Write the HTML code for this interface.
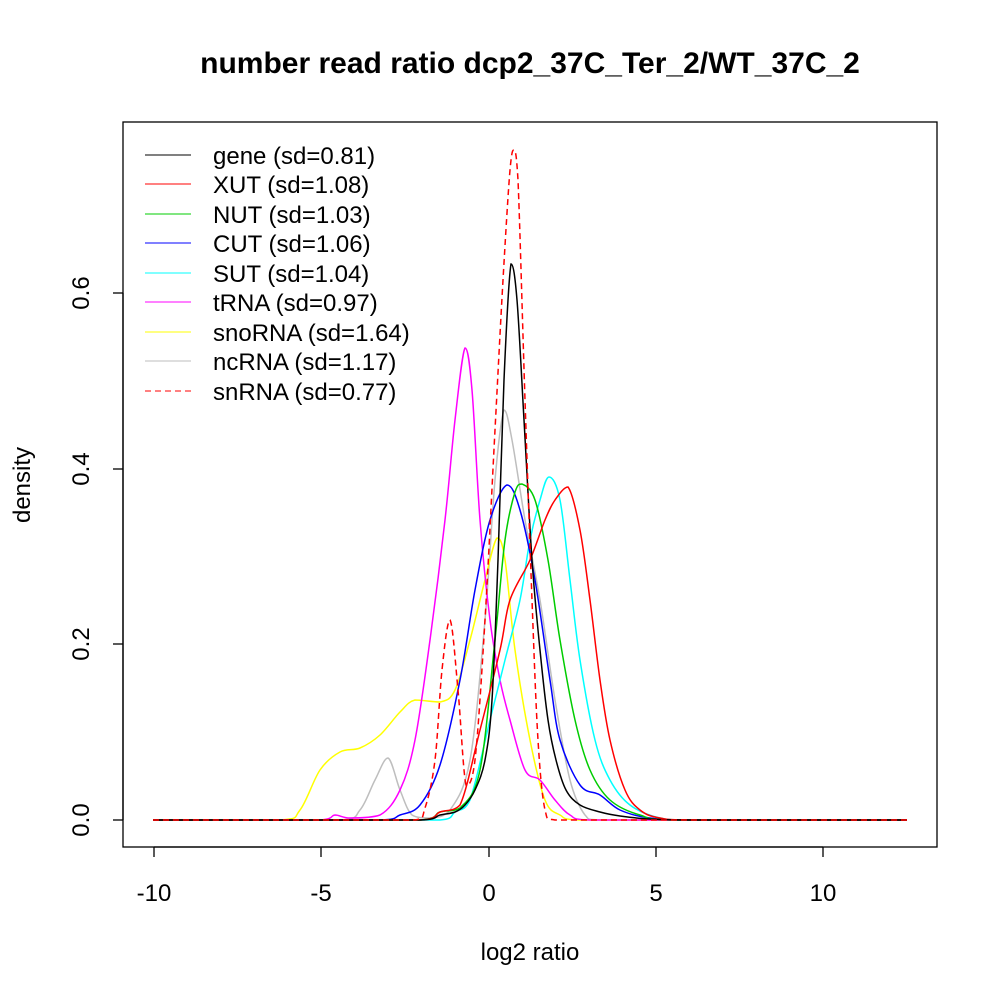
<!DOCTYPE html>
<html><head><meta charset="utf-8"><style>body{margin:0;background:#fff}svg{display:block}text{font-family:"Liberation Sans",sans-serif}</style></head><body>
<svg id="s" width="1000" height="1000" viewBox="0 0 1000 1000">
<rect x="123" y="122" width="814" height="725" fill="none" stroke="#000" stroke-width="1.3"/>
<text x="530" y="73" font-size="30" font-weight="bold" text-anchor="middle">number read ratio dcp2_37C_Ter_2/WT_37C_2</text>
<text x="530" y="960" font-size="24" text-anchor="middle">log2 ratio</text>
<text transform="translate(30,485) rotate(-90)" font-size="24" text-anchor="middle">density</text>
<g stroke="#000" stroke-width="1.3">
<line x1="154" y1="847" x2="823" y2="847"/>
<line x1="154" y1="847" x2="154" y2="857"/><line x1="321" y1="847" x2="321" y2="857"/><line x1="489" y1="847" x2="489" y2="857"/><line x1="656" y1="847" x2="656" y2="857"/><line x1="823" y1="847" x2="823" y2="857"/>
<line x1="123" y1="820" x2="123" y2="293"/>
<line x1="113" y1="820" x2="123" y2="820"/><line x1="113" y1="644" x2="123" y2="644"/><line x1="113" y1="469" x2="123" y2="469"/><line x1="113" y1="293" x2="123" y2="293"/>
</g>
<g font-size="24" text-anchor="middle">
<text x="154" y="901">-10</text><text x="321" y="901">-5</text><text x="489" y="901">0</text><text x="656" y="901">5</text><text x="823" y="901">10</text>
<text transform="translate(89,820) rotate(-90)">0.0</text><text transform="translate(89,644) rotate(-90)">0.2</text><text transform="translate(89,469) rotate(-90)">0.4</text><text transform="translate(89,293) rotate(-90)">0.6</text>
</g>
<g id="curves" fill="none" stroke-width="1.5"></g>
<g font-size="24">
<line x1="145" y1="155" x2="191" y2="155" stroke="#000"/><text x="213" y="164">gene (sd=0.81)</text>
<line x1="145" y1="184" x2="191" y2="184" stroke="#f00"/><text x="213" y="193">XUT (sd=1.08)</text>
<line x1="145" y1="214" x2="191" y2="214" stroke="#0c0"/><text x="213" y="223">NUT (sd=1.03)</text>
<line x1="145" y1="243" x2="191" y2="243" stroke="#00f"/><text x="213" y="252">CUT (sd=1.06)</text>
<line x1="145" y1="273" x2="191" y2="273" stroke="#0ff"/><text x="213" y="282">SUT (sd=1.04)</text>
<line x1="145" y1="302" x2="191" y2="302" stroke="#f0f"/><text x="213" y="311">tRNA (sd=0.97)</text>
<line x1="145" y1="332" x2="191" y2="332" stroke="#ff0"/><text x="213" y="341">snoRNA (sd=1.64)</text>
<line x1="145" y1="361" x2="191" y2="361" stroke="#bebebe"/><text x="213" y="370">ncRNA (sd=1.17)</text>
<line x1="145" y1="391" x2="191" y2="391" stroke="#f00" stroke-dasharray="6,4"/><text x="213" y="400">snRNA (sd=0.77)</text>
</g>
</svg>
<script>
var C=[
["#bebebe","",[153,820,340,820,360,810,375,780,388,758,400,790,412,815,430,818,450,810,470,760,485,620,495,480,504,410,512,440,525,520,540,600,555,700,570,780,585,815,600,820,907,820]],
["#ff0","",[153,820,280,820,300,810,320,770,340,752,360,748,380,735,400,712,415,700,440,702,455,690,470,640,485,580,497,538,505,560,515,650,530,740,545,800,560,815,580,820,907,820]],
["#f0f","",[153,820,320,820,335,815,350,818,380,815,400,790,415,740,430,640,445,520,455,420,465,348,472,390,480,520,490,620,500,680,510,720,525,770,540,780,555,800,570,815,590,820,907,820]],
["#0ff","",[153,820,440,820,455,812,470,800,490,720,505,660,520,600,530,540,540,500,549,477,560,500,570,580,580,660,595,740,610,780,630,805,660,818,700,820,907,820]],
["#00f","",[153,820,380,820,400,815,420,805,440,765,460,680,475,590,490,520,507,485,520,510,535,580,550,680,560,740,580,785,600,795,620,810,650,818,700,820,907,820]],
["#0c0","",[153,820,420,820,440,812,460,808,480,770,495,640,505,540,515,492,522,484,535,500,548,560,560,640,575,720,590,770,610,800,640,815,680,820,907,820]],
["#f00","",[153,820,420,820,440,812,460,805,480,730,500,650,510,600,530,560,545,520,555,500,568,487,580,530,590,600,600,680,610,740,625,790,640,810,660,818,700,820,907,820]],
["#000","",[153,820,420,820,440,815,455,812,465,805,475,790,485,760,492,700,498,560,504,380,511,264,517,300,524,420,532,560,540,650,548,720,556,760,566,790,580,805,600,812,620,816,650,819,700,820,907,820]],
["#f00","6,4",[153,820,415,820,425,808,435,760,442,670,450,620,458,690,466,785,475,760,485,620,495,430,503,280,510,170,514,150,518,180,525,400,532,600,538,740,545,810,555,820,907,820]]
];
function cl(v,a,b){var lo=Math.min(a,b),hi=Math.max(a,b);return Math.max(lo,Math.min(hi,v));}
var g=document.getElementById("curves"),ns="http://www.w3.org/2000/svg";
C.forEach(function(c){var p=c[2],pts=[];for(var i=0;i<p.length;i+=2)pts.push([p[i],p[i+1]]);
var d="M"+pts[0];for(var i=0;i<pts.length-1;i++){var p0=pts[i-1]||pts[i],p1=pts[i],p2=pts[i+1],p3=pts[i+2]||p2;
var ax=cl(p1[0]+(p2[0]-p0[0])/6,p1[0],p2[0]),ay=cl(p1[1]+(p2[1]-p0[1])/6,p1[1],p2[1]),bx=cl(p2[0]-(p3[0]-p1[0])/6,p1[0],p2[0]),by=cl(p2[1]-(p3[1]-p1[1])/6,p1[1],p2[1]);
d+="C"+ax+","+ay+" "+bx+","+by+" "+p2;}
var e=document.createElementNS(ns,"path");e.setAttribute("d",d);e.setAttribute("stroke",c[0]);if(c[1])e.setAttribute("stroke-dasharray",c[1]);g.appendChild(e);});
</script>
</body></html>
